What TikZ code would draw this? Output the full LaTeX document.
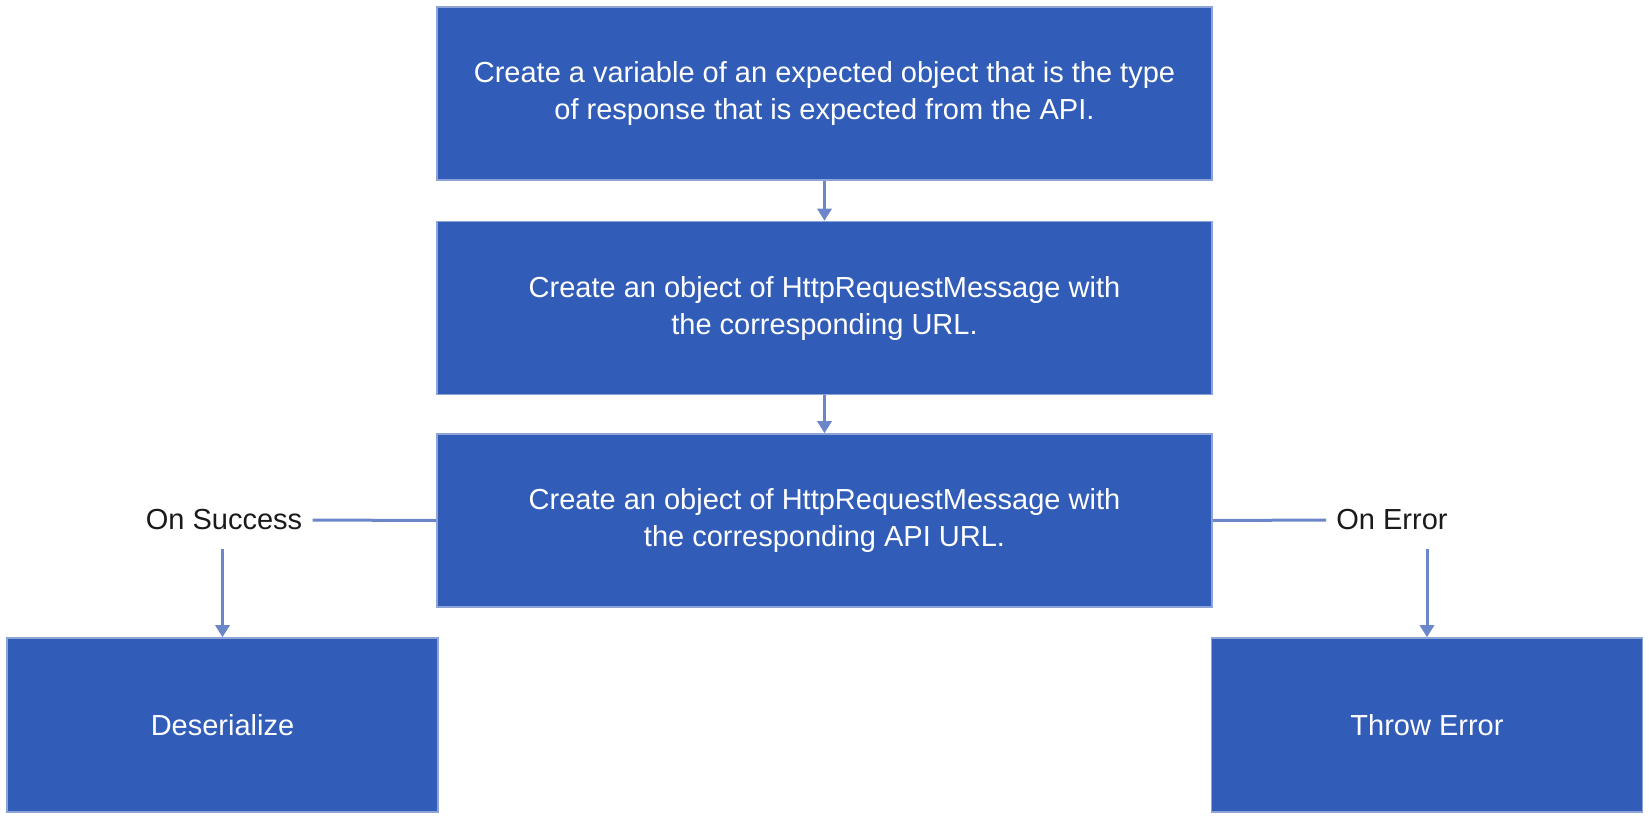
\documentclass[tikz,border=0pt]{standalone}
\usepackage{fontspec}
\setmainfont{Liberation Sans}
\usetikzlibrary{arrows.meta, positioning}
\definecolor{boxblue}{HTML}{315DB8}
\definecolor{boxedge}{HTML}{8EA3D6}
\definecolor{linkblue}{HTML}{6C87C9}
\definecolor{labelblack}{HTML}{1A1A1A}

\begin{document}
\begin{tikzpicture}[x=0.5pt, y=-0.5pt, font=\fontsize{14.5}{18.5}\selectfont,
    stepbox/.style={draw=boxedge, line width=0.8pt, fill=boxblue, text=white,
      align=center, minimum width=387.5pt, minimum height=86.5pt},
    endbox/.style={stepbox, minimum width=215.5pt, minimum height=87pt},
    branchlabel/.style={text=labelblack, inner xsep=5pt, inner ysep=9pt},
    link/.style={draw=linkblue, line width=1.5pt},
    flow/.style={link, -{Triangle[width=7pt, length=6pt]}},
  ]
  \useasboundingbox (0,0) rectangle (1650,820);

  % main steps
  \node[stepbox] (expected) at (824.5,93.5) {Create a variable of an expected object that is the type\\of response that is expected from the API.};
  \node[stepbox] (request) at (824.5,308) {Create an object of HttpRequestMessage with\\the corresponding URL.};
  \node[stepbox] (apirequest) at (824.5,520.5) {Create an object of HttpRequestMessage with\\the corresponding API URL.};

  % outcomes
  \node[endbox] (deserialize) at (222.5,725) {Deserialize};
  \node[endbox] (throwerr) at (1427,725) {Throw Error};

  % branch labels
  \node[branchlabel] (success) at (224,520) {On Success};
  \node[branchlabel] (error) at (1392,520) {On Error};

  \draw[flow] (expected) -- (request);
  \draw[flow] (request) -- (apirequest);
  \draw[link] (apirequest.west) -- (success.east);
  \draw[link] (apirequest.east) -- (error.west);
  \draw[flow] (success.south -| deserialize.north) -- (deserialize.north);
  \draw[flow] (error.south -| throwerr.north) -- (throwerr.north);
\end{tikzpicture}
\end{document}
